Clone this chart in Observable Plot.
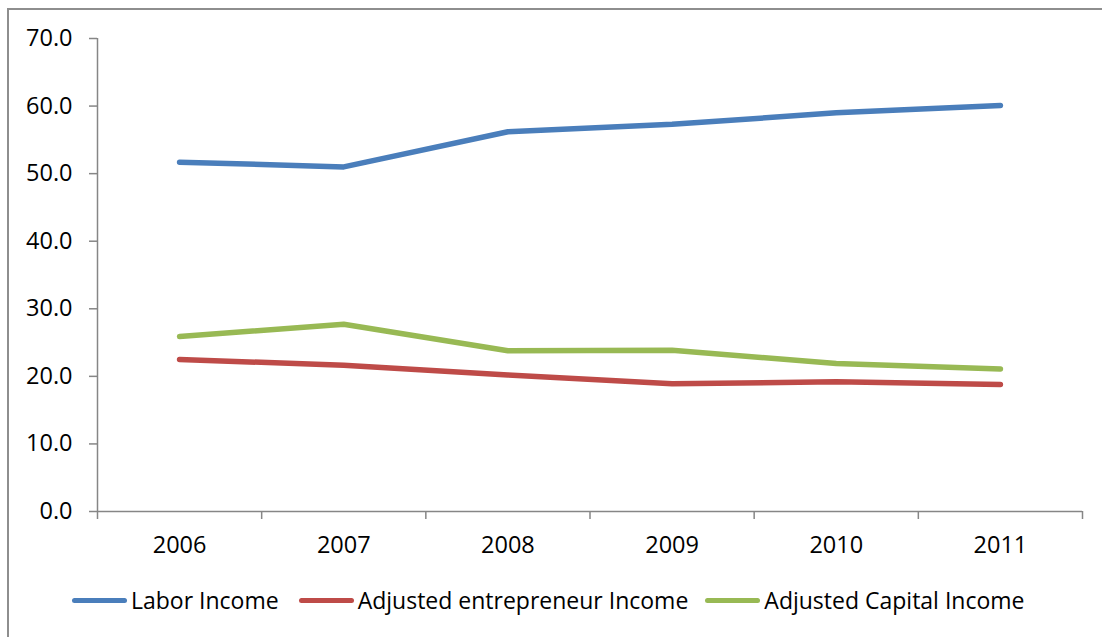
<!DOCTYPE html>
<html>
<head>
<meta charset="utf-8">
<script src="https://cdn.jsdelivr.net/npm/d3@7"></script>
<script src="https://cdn.jsdelivr.net/npm/@observablehq/plot@0.6"></script>
<style>
  html, body { margin: 0; padding: 0; background: #fff; }
  #wrap { position: relative; width: 1102px; height: 637px; overflow: hidden; font-family: "Open Sans", sans-serif; }
  #frame { position: absolute; left: 7px; top: 8px; width: 1200px; height: 800px; border-left: 2px solid #8e8e8e; border-top: 2px solid #8e8e8e; box-sizing: border-box; }
  #chart { position: absolute; left: 0; top: 0; }
  #legend { position: absolute; left: 72px; top: 584px; display: flex; align-items: center; font-size: 23px; color: #000; white-space: nowrap; }
  .item { display: flex; align-items: center; }
  .sw { width: 55px; height: 5px; border-radius: 3px; margin-right: 4px; }
</style>
</head>
<body>
<div id="wrap">
  <div id="frame"></div>
  <div id="chart"></div>
  <div id="legend"></div>
</div>
<script>
const years = [2006, 2007, 2008, 2009, 2010, 2011];
const seriesNames = ["Labor Income", "Adjusted entrepreneur Income", "Adjusted Capital Income"];
const laborIncome = [51.7, 51.0, 56.2, 57.3, 59.0, 60.1];
const entrepreneurIncome = [22.5, 21.65, 20.2, 18.9, 19.2, 18.8];
const capitalIncome = [25.9, 27.7, 23.8, 23.85, 21.9, 21.1];
const colors = ["#4a7ebb", "#be4b48", "#98b954"];
const yTicks = [0, 10, 20, 30, 40, 50, 60, 70];

const seriesValues = [laborIncome, entrepreneurIncome, capitalIncome];
const data = [];
seriesNames.forEach((name, s) => {
  years.forEach((yr, i) => data.push({series: name, year: yr, value: seriesValues[s][i]}));
});
const boundaries = [years[0] - 0.5, ...years.map(y => y + 0.5)];
const axisColor = "#868686";

const plot = Plot.plot({
  width: 1102,
  height: 572,
  marginLeft: 97,
  marginRight: 20,
  marginTop: 38,
  marginBottom: 61,
  style: {fontFamily: "Open Sans, sans-serif", fontSize: "23.5px", color: "#000", background: "transparent"},
  x: {type: "linear", domain: [boundaries[0], boundaries[boundaries.length - 1]]},
  y: {domain: [0, 70]},
  color: {domain: seriesNames, range: colors},
  marks: [
    Plot.axisY({ticks: yTicks, tickFormat: d => d.toFixed(1), tickSize: 8, tickPadding: 17, stroke: axisColor, strokeWidth: 1.5, label: null, fill: "#000"}),
    Plot.axisX({ticks: boundaries, tickFormat: () => "", tickSize: 8, stroke: axisColor, strokeWidth: 1.5, label: null}),
    Plot.axisX({ticks: years, tickFormat: d => String(d), tickSize: 0, tickPadding: 25, label: null, fill: "#000"}),
    Plot.ruleX([boundaries[0]], {y1: 0, y2: 70, stroke: axisColor, strokeWidth: 1.5}),
    Plot.ruleY([0], {stroke: axisColor, strokeWidth: 1.5}),
    Plot.line(data, {x: "year", y: "value", z: "series", stroke: "series", strokeWidth: 5.5, strokeLinecap: "round", strokeLinejoin: "round"})
  ]
});
document.getElementById("chart").appendChild(plot);

const legend = document.getElementById("legend");
const gaps = [20, 17, 0];
seriesNames.forEach((name, i) => {
  const item = document.createElement("div");
  item.className = "item";
  item.style.marginRight = gaps[i] + "px";
  const sw = document.createElement("span");
  sw.className = "sw";
  sw.style.background = colors[i];
  const t = document.createElement("span");
  t.textContent = name;
  item.appendChild(sw);
  item.appendChild(t);
  legend.appendChild(item);
});
</script>
</body>
</html>
